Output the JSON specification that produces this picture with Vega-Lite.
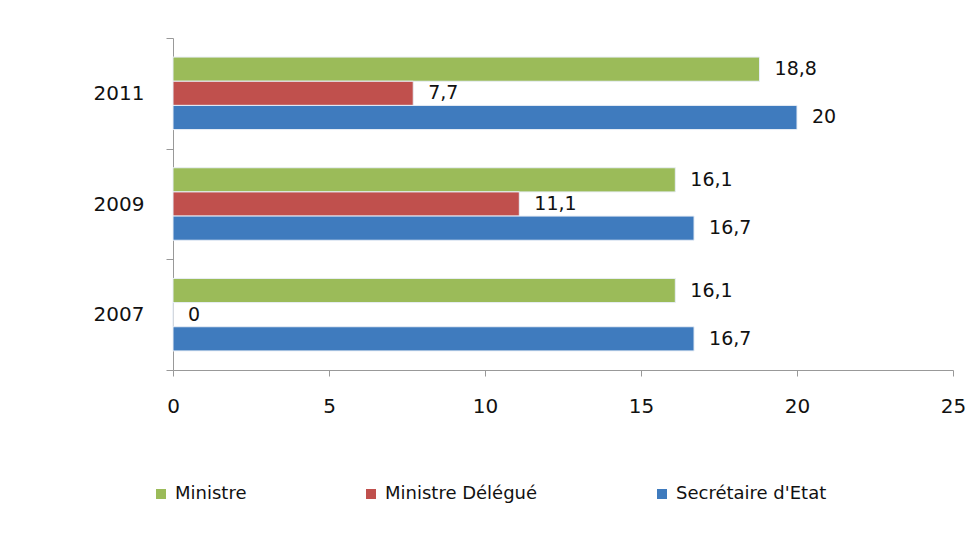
{
  "$schema": "https://vega.github.io/schema/vega-lite/v6.json",
  "width": 780,
  "height": 332,
  "autosize": {"type": "none"},
  "padding": {"left": 173, "top": 38, "right": 22, "bottom": 179},
  "background": "white",
  "config": {
    "view": {"stroke": null},
    "font": "DejaVu Sans",
    "locale": {"number": {"decimal": ",", "thousands": " ", "grouping": [3], "currency": ["", " €"]}}
  },
  "data": {
    "values": [
      {"year": "2011", "role": "Ministre", "value": 18.8},
      {"year": "2011", "role": "Ministre Délégué", "value": 7.7},
      {"year": "2011", "role": "Secrétaire d'Etat", "value": 20},
      {"year": "2009", "role": "Ministre", "value": 16.1},
      {"year": "2009", "role": "Ministre Délégué", "value": 11.1},
      {"year": "2009", "role": "Secrétaire d'Etat", "value": 16.7},
      {"year": "2007", "role": "Ministre", "value": 16.1},
      {"year": "2007", "role": "Ministre Délégué", "value": 0},
      {"year": "2007", "role": "Secrétaire d'Etat", "value": 16.7}
    ]
  },
  "encoding": {
    "y": {
      "field": "year", "type": "nominal", "sort": "descending",
      "scale": {"paddingInner": 0, "paddingOuter": 0},
      "axis": {
        "title": null, "tickBand": "extent", "tickSize": 7, "labelPadding": 22,
        "domainColor": "#999999", "tickColor": "#999999",
        "labelFontSize": 20, "labelColor": "#111111"
      }
    },
    "yOffset": {
      "field": "role", "type": "nominal",
      "sort": ["Ministre", "Ministre Délégué", "Secrétaire d'Etat"],
      "scale": {"paddingOuter": 0.79, "paddingInner": 0}
    },
    "x": {
      "field": "value", "type": "quantitative",
      "scale": {"domain": [0, 25], "nice": false},
      "axis": {
        "title": null, "values": [0, 5, 10, 15, 20, 25], "grid": false, "labelFlush": false,
        "tickSize": 6, "labelPadding": 20, "domainColor": "#999999", "tickColor": "#999999",
        "labelFontSize": 20, "labelColor": "#111111", "format": "~g"
      }
    }
  },
  "layer": [
    {
      "mark": {"type": "bar", "stroke": "#e8eef6", "strokeWidth": 1},
      "encoding": {
        "color": {
          "field": "role", "type": "nominal",
          "scale": {
            "domain": ["Ministre", "Ministre Délégué", "Secrétaire d'Etat"],
            "range": ["#9BBB59", "#C0504D", "#3F7BBE"]
          },
          "legend": {
            "title": null, "orient": "none", "legendX": -21, "legendY": 447,
            "direction": "horizontal", "symbolType": "square", "symbolSize": 100,
            "symbolStrokeWidth": 0, "labelFontSize": 18, "labelColor": "#111111",
            "columnPadding": 115, "labelOffset": 5
          }
        }
      }
    },
    {
      "mark": {"type": "text", "align": "left", "baseline": "middle", "dx": 15, "fontSize": 19, "color": "#111111"},
      "encoding": {
        "text": {"field": "value", "type": "quantitative", "format": "~g"}
      }
    }
  ]
}
